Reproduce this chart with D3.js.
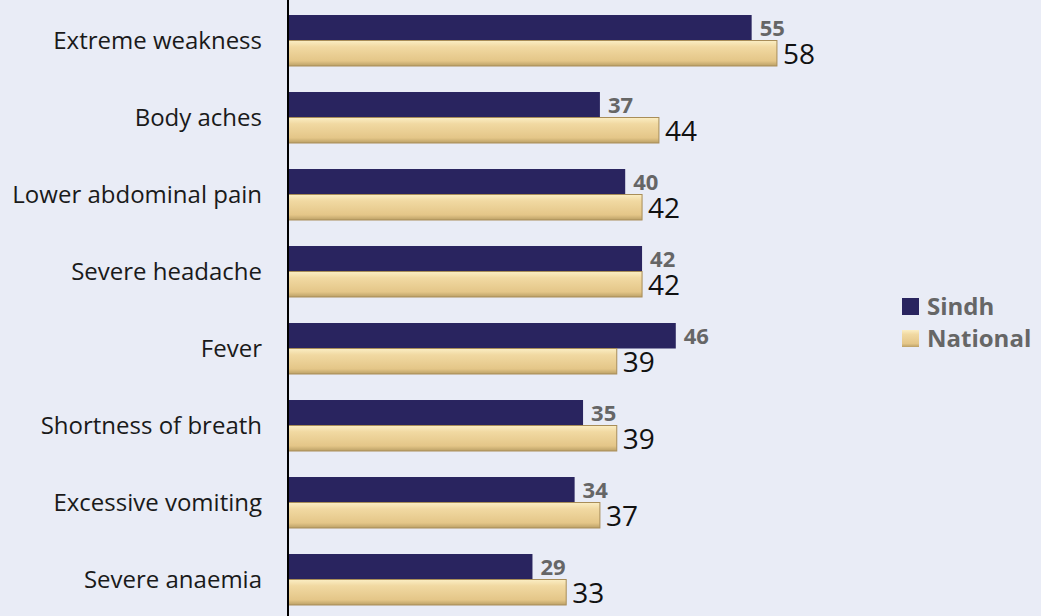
<!DOCTYPE html>
<html>
<head>
<meta charset="utf-8">
<script src="https://cdn.jsdelivr.net/npm/d3@7"></script>
<style>
  body { margin: 0; background: #e9ecf6; }
  svg { display: block; font-family: "Open Sans", "Noto Sans", sans-serif; }
</style>
</head>
<body>
<div id="chart"></div>
<script>
var categories = ["Extreme weakness", "Body aches", "Lower abdominal pain", "Severe headache",
    "Fever", "Shortness of breath", "Excessive vomiting", "Severe anaemia"];
var sindh = [55, 37, 40, 42, 46, 35, 34, 29];
var national = [58, 44, 42, 42, 39, 39, 37, 33];
var seriesNames = ["Sindh", "National"];

var width = 1041, height = 616;
var left = 288;

var svg = d3.select("#chart").append("svg")
    .attr("width", width)
    .attr("height", height);

var defs = svg.append("defs");
var grad = defs.append("linearGradient")
    .attr("id", "gold")
    .attr("x1", 0).attr("y1", 0).attr("x2", 0).attr("y2", 1);
grad.append("stop").attr("offset", "0%").attr("stop-color", "#fbeec4");
grad.append("stop").attr("offset", "25%").attr("stop-color", "#f1d9a2");
grad.append("stop").attr("offset", "80%").attr("stop-color", "#e4c688");
grad.append("stop").attr("offset", "100%").attr("stop-color", "#bba066");

var x = d3.scaleLinear().domain([0, 1]).range([left, left + 8.43]);

var y = d3.scaleBand()
    .domain(categories)
    .range([2, 618])
    .paddingInner(0.338)
    .paddingOuter(0.169);

var sub = d3.scaleBand()
    .domain(seriesNames)
    .range([0, y.bandwidth()]);

var rows = categories.map(function (c, i) {
    return { cat: c, sindh: sindh[i], national: national[i] };
});

var g = svg.selectAll(".row")
    .data(rows)
    .enter()
    .append("g")
    .attr("class", "row")
    .attr("transform", function (d) { return "translate(0," + y(d.cat) + ")"; });

g.append("rect")
    .attr("x", x(0))
    .attr("y", sub("Sindh"))
    .attr("width", function (d) { return x(d.sindh) - x(0); })
    .attr("height", sub.bandwidth())
    .attr("fill", "#29245f");

g.append("rect")
    .attr("x", x(0))
    .attr("y", sub("National"))
    .attr("width", function (d) { return x(d.national) - x(0); })
    .attr("height", sub.bandwidth())
    .attr("fill", "url(#gold)")
    .attr("stroke", "#a88d58")
    .attr("stroke-width", 1);

g.append("text")
    .attr("x", function (d) { return x(d.sindh) + 8; })
    .attr("y", sub("Sindh") + sub.bandwidth() - 5)
    .attr("font-size", 22)
    .attr("font-weight", "bold")
    .attr("fill", "#666666")
    .text(function (d) { return d.sindh; });

g.append("text")
    .attr("x", function (d) { return x(d.national) + 6; })
    .attr("y", sub("National") + sub.bandwidth() / 2 + 1)
    .attr("dy", "0.36em")
    .attr("font-size", 28)
    .attr("fill", "#111111")
    .text(function (d) { return d.national; });

g.append("text")
    .attr("x", 262)
    .attr("y", y.bandwidth() / 2)
    .attr("dy", "0.36em")
    .attr("text-anchor", "end")
    .attr("font-size", 24)
    .attr("fill", "#1a1a1a")
    .text(function (d) { return d.cat; });

svg.append("line")
    .attr("x1", x(0)).attr("x2", x(0))
    .attr("y1", 0).attr("y2", height)
    .attr("stroke", "#000")
    .attr("stroke-width", 2);

var legend = svg.selectAll(".legend")
    .data(seriesNames)
    .enter()
    .append("g")
    .attr("class", "legend")
    .attr("transform", function (d, i) { return "translate(902," + (298 + i * 32) + ")"; });

legend.append("rect")
    .attr("width", 17)
    .attr("height", 17)
    .attr("fill", function (d, i) { return i === 0 ? "#29245f" : "url(#gold)"; });

legend.append("text")
    .attr("x", 25)
    .attr("y", 8)
    .attr("dy", "0.36em")
    .attr("font-size", 24)
    .attr("font-weight", "bold")
    .attr("fill", "#666666")
    .text(String);
</script>
</body>
</html>
